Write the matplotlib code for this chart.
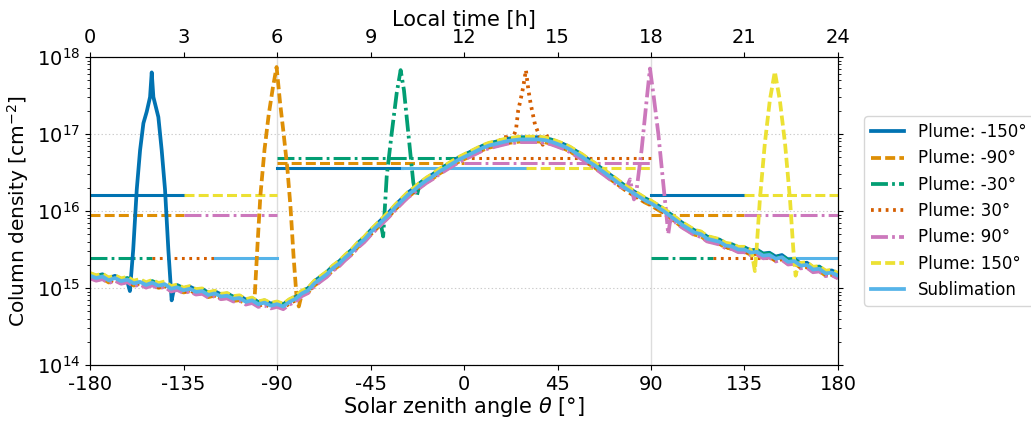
import numpy as np
import matplotlib
matplotlib.use('Agg')
import matplotlib.pyplot as plt

plt.rcParams['axes.unicode_minus'] = False
plt.rcParams['lines.scale_dashes'] = False

# base column density (log10 cm^-2), read every 3 deg from the picture
theta = np.arange(-180, 181, 3)
base_log = [15.16, 15.13, 15.15, 15.10, 15.13, 15.09, 15.11, 15.06, 15.08, 15.04,
            15.07, 15.03, 15.05, 14.99, 15.01, 14.97, 14.99, 14.95, 14.96, 14.91,
            14.93, 14.89, 14.90, 14.86, 14.87, 14.82, 14.84, 14.79, 14.81, 14.77,
            14.79, 14.76, 14.82, 14.86, 14.93, 14.97, 15.06, 15.12, 15.18, 15.26,
            15.32, 15.40, 15.47, 15.56, 15.63, 15.72, 15.80, 15.88, 15.96, 16.05,
            16.13, 16.21, 16.27, 16.34, 16.40, 16.45, 16.51, 16.56, 16.61, 16.66,
            16.70, 16.74, 16.78, 16.82, 16.85, 16.87, 16.89, 16.91, 16.92, 16.93,
            16.93, 16.93, 16.93, 16.92, 16.90, 16.87, 16.84, 16.80, 16.75, 16.70,
            16.64, 16.59, 16.53, 16.47, 16.41, 16.35, 16.29, 16.24, 16.19, 16.14,
            16.10, 16.05, 16.00, 15.94, 15.88, 15.82, 15.77, 15.72, 15.70, 15.64,
            15.62, 15.60, 15.55, 15.54, 15.50, 15.50, 15.46, 15.47, 15.42, 15.43,
            15.38, 15.40, 15.34, 15.35, 15.29, 15.30, 15.24, 15.25, 15.19, 15.20,
            15.16]

# plume peaks (theta, log10 density)
p150m_x = [-162, -160.8, -159.2, -157.5, -155.9, -154.3, -152.7, -151.1, -150.3,
           -149.5, -147.1, -145.5, -143.9, -142.3, -140.7, -139.5]
p150m_y = [15.08, 14.96, 15.50, 16.28, 16.79, 17.14, 17.29, 17.48, 17.80,
           17.48, 17.22, 16.79, 16.28, 15.50, 14.84, 15.00]
p90m_x = [-102, -100.8, -99.3, -98, -96, -94, -92, -90.2, -88.5, -87, -85,
          -83.5, -82, -80.5, -79.5, -78]
p90m_y = [14.84, 14.86, 15.60, 16.20, 16.80, 17.25, 17.60, 17.87, 17.40, 17.05,
          16.55, 16.05, 15.40, 14.85, 14.76, 14.93]
p30m_x = [-41, -39.8, -38.9, -37.2, -34.8, -32.4, -30.5, -28.9, -26.8, -24.4,
          -22.8, -21.2, -20]
p30m_y = [15.82, 15.80, 15.67, 16.45, 17.01, 17.53, 17.83, 17.57, 17.01, 16.37,
          16.19, 16.36, 16.38]
p30_x = [17, 18.1, 20.5, 22.1, 25.0, 26.1, 27.2, 28.5, 29.8, 31.0, 32.1, 34.2,
         35.8, 37.9, 39.5, 41]
p30_y = [16.89, 16.96, 16.96, 16.86, 17.05, 17.31, 17.44, 17.61, 17.83, 17.57,
         17.39, 17.12, 17.01, 16.86, 17.00, 16.91]
p90_x = [78, 79.9, 81.8, 83.1, 85.5, 87.9, 89.5, 91.1, 93.5, 95.9, 97.5, 98.3,
         99.1, 100.5]
p90_y = [16.29, 16.41, 16.15, 16.28, 16.80, 17.44, 17.85, 17.53, 17.01, 16.36,
         15.93, 15.70, 15.85, 15.92]
p150_x = [138.5, 140.0, 140.8, 142.4, 144.8, 147.2, 149.6, 152.0, 154.5, 156.9,
          158.5, 159.6, 161]
p150_y = [15.46, 15.22, 15.50, 16.15, 16.88, 17.44, 17.81, 17.44, 16.88, 16.15,
          15.50, 15.16, 15.32]

peaks_x = [p150m_x, p90m_x, p30m_x, p30_x, p90_x, p150_x]
peaks_y = [p150m_y, p90m_y, p30m_y, p30_y, p90_y, p150_y]
offsets = [0.028, -0.028, 0.02, -0.02, -0.035, 0.035]

labels = ['Plume: -150°', 'Plume: -90°', 'Plume: -30°', 'Plume: 30°',
          'Plume: 90°', 'Plume: 150°', 'Sublimation']
colors = ['#0173b2', '#de8f05', '#029e73', '#d55e00', '#cc78bc', '#ece133', '#56b4e9']
styles = ['-', (0, (7.2, 3.0)), (0, (12.2, 3.0, 2.0, 3.0)), (0, (2.0, 3.3)),
          (0, (12.2, 3.0, 2.0, 3.0)), (0, (7.2, 3.0)), '-']

# horizontal mean levels: series index, start, end, level
seg_series = [0, 5, 1, 4, 2, 3, 6, 2, 3, 1, 4, 0, 6, 5, 0, 5, 1, 4, 2, 3, 6]
seg_start = [-180, -135, -180, -135, -180, -150, -120, -90, 0, -90, 0, -90, -30, 30,
             90, 135, 90, 135, 90, 120, 150]
seg_end = [-135, -90, -135, -90, -150, -120, -90, 0, 90, 0, 90, -30, 30, 90,
           135, 180, 135, 180, 120, 150, 180]
seg_level = [1.6e16, 1.6e16, 8.8e15, 8.8e15, 2.45e15, 2.45e15, 2.45e15,
             4.9e16, 4.9e16, 4.25e16, 4.25e16, 3.65e16, 3.65e16, 3.65e16,
             1.6e16, 1.6e16, 8.8e15, 8.8e15, 2.45e15, 2.45e15, 2.45e15]

base_log = np.array(base_log)
lw = 2.7

fig = plt.figure(figsize=(10.31, 4.21), dpi=100)
ax = fig.add_axes([0.0873, 0.133, 0.7255, 0.7316])

ax.axvline(-90, color='#dddddd', lw=1, zorder=0)
ax.axvline(90, color='#dddddd', lw=1, zorder=0)
ax.grid(True, axis='y', which='major', color='#cccccc', ls=':', lw=0.8)

for s, x0, x1, lev in zip(seg_series, seg_start, seg_end, seg_level):
    ax.plot([x0, x1], [lev, lev], color=colors[s], ls=styles[s], lw=2.2, zorder=1)

for i in range(6):
    px = np.array(peaks_x[i])
    py = np.array(peaks_y[i])
    keep = (theta < px[0]) | (theta > px[-1])
    x = np.concatenate([theta[keep], px])
    y = np.concatenate([base_log[keep] + offsets[i], py])
    order = np.argsort(x)
    ax.plot(x[order], 10 ** y[order], color=colors[i], ls=styles[i], lw=lw,
            label=labels[i], zorder=2)

ax.plot(theta, 10 ** base_log, color=colors[6], ls=styles[6], lw=lw,
        label=labels[6], zorder=3)

ax.set_yscale('log')
ax.set_ylim(1e14, 1e18)
ax.set_xlim(-180, 180)
ax.set_xticks([-180, -135, -90, -45, 0, 45, 90, 135, 180])
ax.tick_params(labelsize=14, right=True, which='both')
ax.set_xlabel(r'Solar zenith angle $\theta$ [°]', fontsize=15, labelpad=1)
ax.set_ylabel(r'Column density [cm$^{-2}$]', fontsize=14.5)

ax2 = ax.twiny()
ax2.set_xlim(0, 24)
ax2.set_xticks(range(0, 25, 3))
ax2.tick_params(labelsize=14)
ax2.set_xlabel('Local time [h]', fontsize=15, labelpad=2)

ax.legend(loc='center left', bbox_to_anchor=(1.024, 0.5), fontsize=12)

fig.savefig('out.png', dpi=100)
